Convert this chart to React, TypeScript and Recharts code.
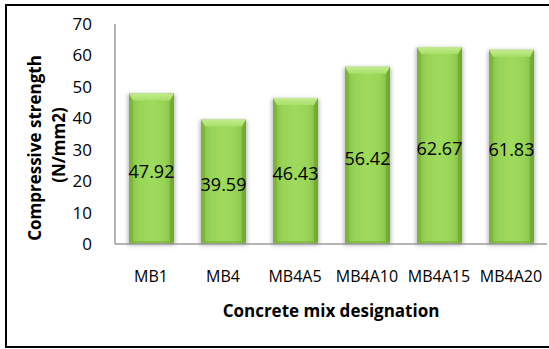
import React from 'react'
import { BarChart, Bar, XAxis, YAxis, LabelList, Label } from 'recharts'

const mixes = ['MB1', 'MB4', 'MB4A5', 'MB4A10', 'MB4A15', 'MB4A20']
const strength = [47.92, 39.59, 46.43, 56.42, 62.67, 61.83]
const yTicks = [0, 10, 20, 30, 40, 50, 60, 70]

const data = mixes.map((mix, i) => ({ mix, strength: strength[i] }))

const font = '"Open Sans", "Noto Sans", sans-serif'
const axisGray = '#9a9a9a'

// green column with a soft drop shadow and a bevelled top edge
function BevelBar(props: any) {
  const { x, y, width, height } = props
  if (!height || height <= 0) return null
  const b = 7
  const s = 4
  return (
    <g>
      <rect x={x - 1} y={y + 1} width={width + 2} height={height} fill="#555" opacity={0.45} filter="url(#barShadow)" />
      <rect x={x} y={y} width={width} height={height} fill="url(#barBody)" />
      <polygon
        points={`${x},${y} ${x + s},${y + b} ${x + s},${y + height} ${x},${y + height}`}
        fill="#78b23a"
        opacity={0.8}
      />
      <polygon
        points={`${x + width},${y} ${x + width - s},${y + b} ${x + width - s},${y + height} ${x + width},${y + height}`}
        fill="#6fa535"
        opacity={0.8}
      />
      <polygon
        points={`${x},${y} ${x + width},${y} ${x + width - s},${y + b} ${x + s},${y + b}`}
        fill="url(#barTop)"
      />
      <rect x={x} y={y + height - 3} width={width} height={3} fill="#7db53e" opacity={0.7} />
    </g>
  )
}

// two-line rotated title left of the value axis
function YTitle() {
  const cy = 148
  return (
    <g fontFamily={font} fontWeight={700} fontSize={17} fill="#000">
      <text x={34} y={cy} transform={`rotate(-90, 34, ${cy})`} textAnchor="middle" dominantBaseline="central">
        Compressive strength
      </text>
      <text x={58} y={cy - 3} transform={`rotate(-90, 58, ${cy - 3})`} textAnchor="middle" dominantBaseline="central">
        (N/mm2)
      </text>
    </g>
  )
}

function XTitle(props: any) {
  const { viewBox } = props
  const cx = viewBox.x + viewBox.width / 2
  return (
    <text
      x={cx}
      y={310}
      textAnchor="middle"
      dominantBaseline="central"
      fontFamily={font}
      fontWeight={700}
      fontSize={17}
      fill="#000"
    >
      Concrete mix designation
    </text>
  )
}

export default function App() {
  return (
    <div style={{ position: 'absolute', left: 0, top: 0, width: 549, height: 349, overflow: 'hidden', background: '#fff' }}>
      <div
        style={{
          position: 'absolute',
          left: 5,
          top: 4,
          width: 580,
          height: 344,
          boxSizing: 'border-box',
          border: '2px solid #000',
        }}
      />
      <div style={{ position: 'absolute', left: 0, top: 0 }}>
        <BarChart width={549} height={349} data={data} margin={{ top: 24, right: 2, bottom: 30, left: 0 }}>
          <defs>
            <linearGradient id="barBody" x1="0" y1="0" x2="1" y2="0">
              <stop offset="0%" stopColor="#82bd42" />
              <stop offset="20%" stopColor="#97d354" />
              <stop offset="50%" stopColor="#9fdb5c" />
              <stop offset="80%" stopColor="#97d354" />
              <stop offset="100%" stopColor="#7cb63e" />
            </linearGradient>
            <linearGradient id="barTop" x1="0" y1="0" x2="0" y2="1">
              <stop offset="0%" stopColor="#c2ec8e" />
              <stop offset="100%" stopColor="#a8df68" />
            </linearGradient>
            <filter id="barShadow" x="-30%" y="-10%" width="160%" height="120%">
              <feGaussianBlur stdDeviation="2" />
            </filter>
          </defs>
          <XAxis
            dataKey="mix"
            height={75}
            tickLine={false}
            tickSize={0}
            tickMargin={27}
            axisLine={{ stroke: axisGray, strokeWidth: 1.5 }}
            tick={{ fill: '#000', fontSize: 16, fontFamily: font }}
            interval={0}
          >
            <Label content={XTitle} />
          </XAxis>
          <YAxis
            width={115}
            domain={[0, 70]}
            ticks={yTicks}
            tickLine={false}
            tickSize={0}
            tickMargin={23}
            axisLine={{ stroke: axisGray, strokeWidth: 1.5 }}
            tick={{ fill: '#000', fontSize: 17, fontFamily: font }}
          >
            <Label content={YTitle} />
          </YAxis>
          <Bar dataKey="strength" barSize={45} shape={BevelBar} isAnimationActive={false}>
            <LabelList
              dataKey="strength"
              position="center"
              dy={3}
              fill="#000"
              fontSize={18}
              fontFamily={font}
            />
          </Bar>
        </BarChart>
      </div>
    </div>
  )
}
